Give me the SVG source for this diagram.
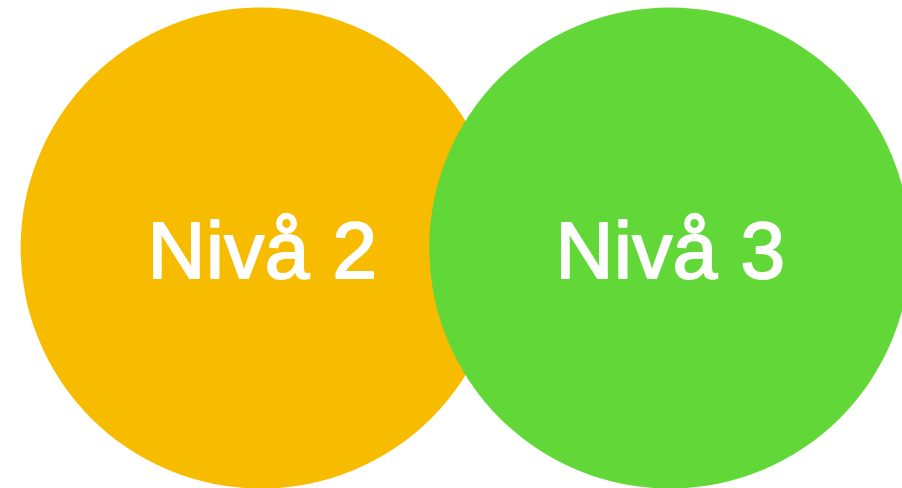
<svg xmlns="http://www.w3.org/2000/svg" width="902" height="488" viewBox="0 0 902 488">
<style>
.lbl{font-family:"Liberation Sans",Arial,sans-serif;font-size:80px;fill:#ffffff;stroke:#ffffff;stroke-width:2;stroke-linejoin:round;text-anchor:middle;letter-spacing:0.5px}
</style>
<rect width="902" height="488" fill="#ffffff"/>
<g id="connectors"></g>
<g id="niva2">
<circle cx="261.2" cy="248" r="240.6" fill="#F7BB00"/>
<text class="lbl" x="262.5" y="277.5">Nivå 2</text>
</g>
<g id="niva3">
<circle cx="669.8" cy="248" r="240.6" fill="#62D838"/>
<text class="lbl" x="670.5" y="277.5">Nivå 3</text>
</g>
</svg>
